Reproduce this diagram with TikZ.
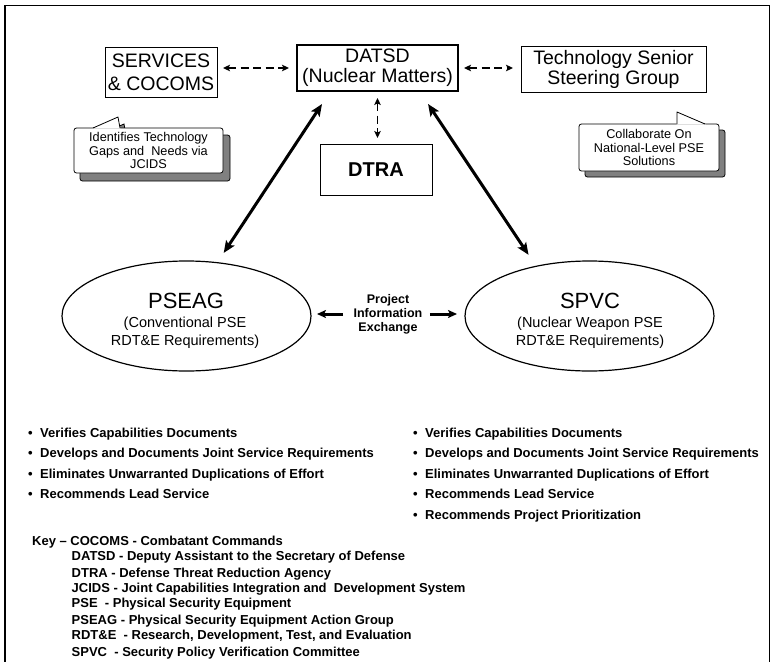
\documentclass[tikz,border=0pt]{standalone}
\usepackage{fontspec}
\setmainfont{Liberation Sans}
\usetikzlibrary{arrows.meta,shapes.geometric,calc}
\definecolor{shadowgray}{RGB}{128,128,128}
\begin{document}
\begin{tikzpicture}[x=1pt,y=-1pt,
  box/.style={draw,line width=0.9pt,inner sep=0pt,outer sep=0pt,align=center,font=\fontsize{19.5}{20}\selectfont},
  ellnode/.style={draw,ellipse,line width=1.2pt,inner sep=0pt,outer sep=0pt,minimum width=249pt,minimum height=110pt},
  titletext/.style={anchor=base,inner sep=0pt,font=\fontsize{22}{22}\selectfont},
  subtext/.style={anchor=base,inner sep=0pt,font=\fontsize{14.5}{17}\selectfont},
  callbox/.style={draw,line width=0.8pt,fill=white,rounded corners=2.5pt,inner sep=0pt,outer sep=0pt,align=center,font=\fontsize{12.7}{13.5}\selectfont},
  shadowbox/.style={draw,line width=0.8pt,fill=shadowgray,rounded corners=2.5pt},
  dasharrow/.style={line width=1.4pt,dash pattern=on 8pt off 4.5pt,{Stealth[length=7pt,width=6.5pt,inset=1.5pt]}-{Stealth[length=7pt,width=6.5pt,inset=1.5pt]}},
  bigarrow/.style={line width=3pt,{Stealth[length=12pt,width=10pt,inset=2.5pt]}-{Stealth[length=12pt,width=10pt,inset=2.5pt]}},
  xarrow/.style={line width=3pt,-{Stealth[length=9pt,width=8pt,inset=2pt]}},
  pietext/.style={inner sep=0pt,outer sep=0pt,align=center,font=\bfseries\fontsize{12.5}{14}\selectfont},
  bullettext/.style={anchor=base west,inner sep=0pt,font=\bfseries\fontsize{13}{15}\selectfont},
  keytext/.style={anchor=base west,inner sep=0pt,font=\bfseries\fontsize{13}{15}\selectfont},
]
\useasboundingbox (0,0) rectangle (772,662);
\fill[white] (0,0) rectangle (772,662);
% outer frame
\draw[line width=1.5pt] (5,670) -- (5,5.5) -- (769.5,5.5) -- (769.5,670);

% top boxes
\node[box,minimum width=112pt,minimum height=50pt,font=\fontsize{19.5}{23}\selectfont] (serv) at (161,72) {SERVICES\\\& COCOMS};
\node[box,line width=2pt,minimum width=161pt,minimum height=46pt] (datsd) at (377.5,68) {DATSD\\(Nuclear Matters)};
\node[box,minimum width=185pt,minimum height=46pt] (tssg) at (613.5,69) {Technology Senior\\Steering Group};
\node[box,minimum width=112pt,minimum height=51pt,font=\bfseries\fontsize{20}{20}\selectfont] (dtra) at (376,169.5) {DTRA};

% ellipses
\node[ellnode] (pseag) at (186.5,316) {};
\node[titletext] (pseagt) at (186,308) {PSEAG};
\node[subtext] (pseaga) at (185,327) {(Conventional PSE};
\node[subtext] (pseagb) at (185,345) {RDT\&E Requirements)};
\node[ellnode] (spvc) at (589.5,316) {};
\node[titletext] (spvct) at (590,308) {SPVC};
\node[subtext] (spvca) at (590,327) {(Nuclear Weapon PSE};
\node[subtext] (spvcb) at (590,345) {RDT\&E Requirements)};

% project information exchange
\node[pietext] (pie) at (388,314) {Project\\Information\\Exchange};

% dashed arrows
\draw[dasharrow,shorten <=6pt,shorten >=8pt] (datsd.west -| serv.east) -- (datsd.west);
\draw[dasharrow,shorten <=6pt,shorten >=8pt] (datsd.east) -- (datsd.east -| tssg.west);
\draw[dasharrow,shorten <=7pt,shorten >=6pt] (datsd.south) -- (datsd.south |- dtra.north);

% thick arrows
\draw[bigarrow,shorten <=15.6pt,shorten >=11.7pt] ([xshift=33.6pt]datsd.south west) -- (pseag.60.7);
\draw[bigarrow,shorten <=15.6pt,shorten >=13.8pt] ([xshift=-38.6pt]datsd.south east) -- (spvc.137.4);
\draw[xarrow,shorten <=10.6pt,shorten >=6pt] (pie.west) -- (pie.west -| pseag.east);
\draw[xarrow,shorten <=7.6pt,shorten >=8pt] (pie.east) -- (pie.east -| spvc.west);

% left callout
\draw[shadowbox] (80,135) rectangle (230,181);
\draw[line width=0.8pt,fill=shadowgray] (99,135) -- (124,124) -- (126,135) -- cycle;
\node[callbox,minimum width=149pt,minimum height=45pt] (cl) at (148.5,150.5) {Identifies Technology\\Gaps and\ \ Needs via\\JCIDS};
\fill[white] (92.5,128.7) -- (118,117) -- (120.4,128.7) -- cycle;
\draw[line width=0.8pt,line join=round] (93,128) -- (118,117) -- (120,128);

% right callout
\draw[shadowbox] (585,130) rectangle (725,177);
\node[callbox,minimum width=140pt,minimum height=47pt] (cr) at (649,147.5) {Collaborate On\\National-Level PSE\\Solutions};
\fill[white] (676.6,124.7) -- (676.6,112) -- (706,124.7) -- cycle;
\draw[line width=0.8pt,line join=round] (677,124) -- (677,112) -- (705,124);

% bullets left
\node[bullettext] (bl1) at (28,437) {\makebox[12pt][l]{\textbullet}Verifies Capabilities Documents};
\node[bullettext] (bl2) at (28,457) {\makebox[12pt][l]{\textbullet}Develops and Documents Joint Service Requirements};
\node[bullettext] (bl3) at (28,478) {\makebox[12pt][l]{\textbullet}Eliminates Unwarranted Duplications of Effort};
\node[bullettext] (bl4) at (28,498) {\makebox[12pt][l]{\textbullet}Recommends Lead Service};
% bullets right
\node[bullettext] (br1) at (413,437) {\makebox[12pt][l]{\textbullet}Verifies Capabilities Documents};
\node[bullettext] (br2) at (413,457) {\makebox[12pt][l]{\textbullet}Develops and Documents Joint Service Requirements};
\node[bullettext] (br3) at (413,478) {\makebox[12pt][l]{\textbullet}Eliminates Unwarranted Duplications of Effort};
\node[bullettext] (br4) at (413,498) {\makebox[12pt][l]{\textbullet}Recommends Lead Service};
\node[bullettext] (br5) at (413,519) {\makebox[12pt][l]{\textbullet}Recommends Project Prioritization};

% key
\node[keytext] (k1) at (32,545) {Key – COCOMS - Combatant Commands};
\node[keytext] (k2) at (71.5,560) {DATSD - Deputy Assistant to the Secretary of Defense};
\node[keytext] (k3) at (71.5,577) {DTRA - Defense Threat Reduction Agency};
\node[keytext] (k4) at (71.5,592) {JCIDS - Joint Capabilities Integration and\ \ Development System};
\node[keytext] (k5) at (71.5,607) {PSE\ \ - Physical Security Equipment};
\node[keytext] (k6) at (71.5,624) {PSEAG - Physical Security Equipment Action Group};
\node[keytext] (k7) at (71.5,639) {RDT\&E\ \ - Research, Development, Test, and Evaluation};
\node[keytext] (k8) at (71.5,656) {SPVC\ \ - Security Policy Verification Committee};
\end{tikzpicture}
\end{document}
